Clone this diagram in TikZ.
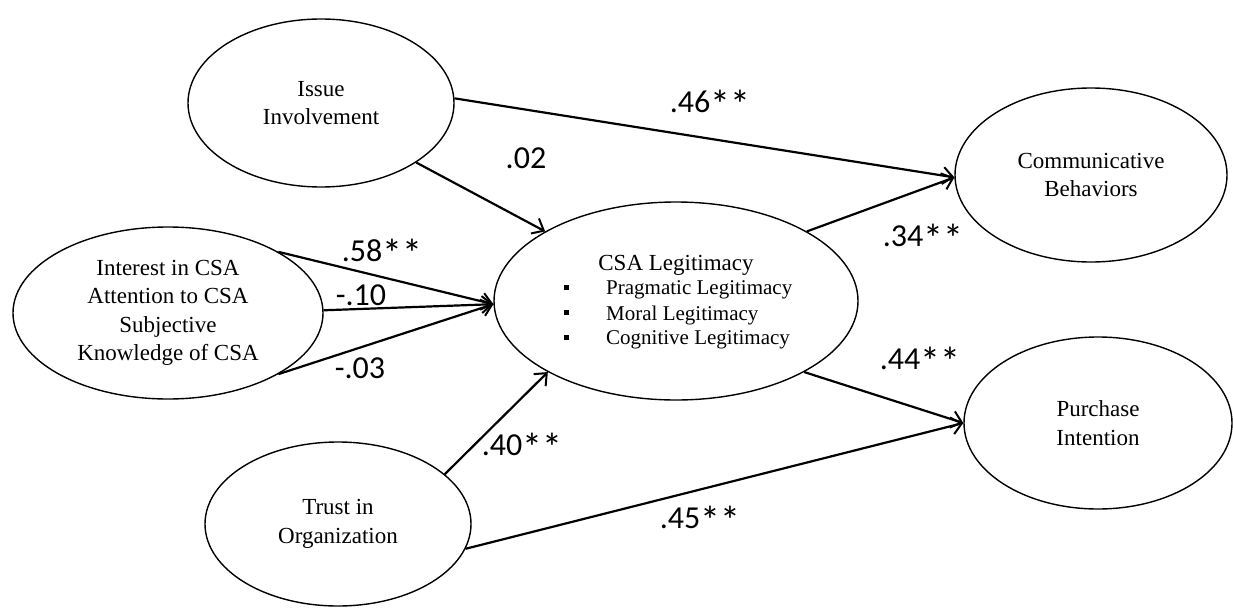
\documentclass[tikz,border=0pt]{standalone}
\usepackage{fontspec}
\usepackage{graphicx}
\setmainfont{Liberation Serif}
\newfontfamily\labfont{Carlito}
\usetikzlibrary{arrows.meta,shapes.geometric}
\tikzset{
  construct/.style={ellipse, draw, line width=1.4pt, inner sep=0pt, align=center,
    font=\fontsize{23}{28.5}\selectfont},
  path/.style={line width=2.2pt, -{Straight Barb[length=10pt,width=17pt,line width=2pt]}},
  coef/.style={font=\labfont\fontsize{32}{34}\selectfont, inner sep=0pt},
  item/.style={font=\fontsize{21}{25}\selectfont, inner sep=0pt, anchor=west}
}
\newcommand{\sqbullet}{\rule[0.22em]{5pt}{5pt}}
% significance star, enlarged and aligned with the top of the digits
\newcommand{\sig}{\raisebox{-0.19em}{\scalebox{1.25}{*}}}
\begin{document}
\begin{tikzpicture}[x=1pt,y=-1pt]
\useasboundingbox (0,0) rectangle (1233,610);

% latent constructs
\node[construct, minimum width=266pt, minimum height=168pt] (issue) at (321,103) {Issue\\Involvement};
\node[construct, minimum width=310pt, minimum height=172pt] (interest) at (168,313)
  {Interest in CSA\\Attention to CSA\\Subjective\\Knowledge of CSA};
\node[construct, minimum width=364pt, minimum height=198pt] (csa) at (676,301) {};
\node[construct, minimum width=266pt, minimum height=164pt] (trust) at (338,524) {Trust in\\Organization};
\node[construct, minimum width=272pt, minimum height=174pt] (comm) at (1091,175) {Communicative\\Behaviors};
\node[construct, minimum width=268pt, minimum height=172pt] (purchase) at (1098,423) {Purchase\\Intention};

% contents of the mediator
\node[font=\fontsize{23}{28}\selectfont, inner sep=0pt] (csatitle) at (676,265) {CSA Legitimacy};
\node[item] (b1) at (564,290) {\sqbullet};
\node[item] (b2) at (564,315) {\sqbullet};
\node[item] (b3) at (564,340) {\sqbullet};
\node[item] (i1) at (606,290) {Pragmatic Legitimacy};
\node[item] (i2) at (606,315) {Moral Legitimacy};
\node[item] (i3) at (606,340) {Cognitive Legitimacy};

% structural paths
\draw[path] (issue.2) -- (comm.181);
\draw[path] (issue.-32) -- (csa.152);
\draw[path] (interest.29) -- (csa.181);
\draw[path] (interest.1) -- (csa.181);
\draw[path] (interest.-29) -- (csa.181);
\draw[path] (trust.25) -- (csa.209);
\draw[path] (trust.-11) -- (purchase.180);
\draw[path] (csa.28) -- (comm.181);
\draw[path] (csa.-29) -- (purchase.180);

% path coefficients
\node[coef] (c1) at (710,104) {.46\sig\sig};
\node[coef] (c2) at (526,158) {.02};
\node[coef] (c3) at (382,253) {.58\sig\sig};
\node[coef] (c4) at (361,295) {-.10};
\node[coef] (c5) at (360,368) {-.03};
\node[coef] (c6) at (522,447) {.40\sig\sig};
\node[coef] (c7) at (700,520) {.45\sig\sig};
\node[coef] (c8) at (923,238) {.34\sig\sig};
\node[coef] (c9) at (920,361) {.44\sig\sig};
\end{tikzpicture}
\end{document}
